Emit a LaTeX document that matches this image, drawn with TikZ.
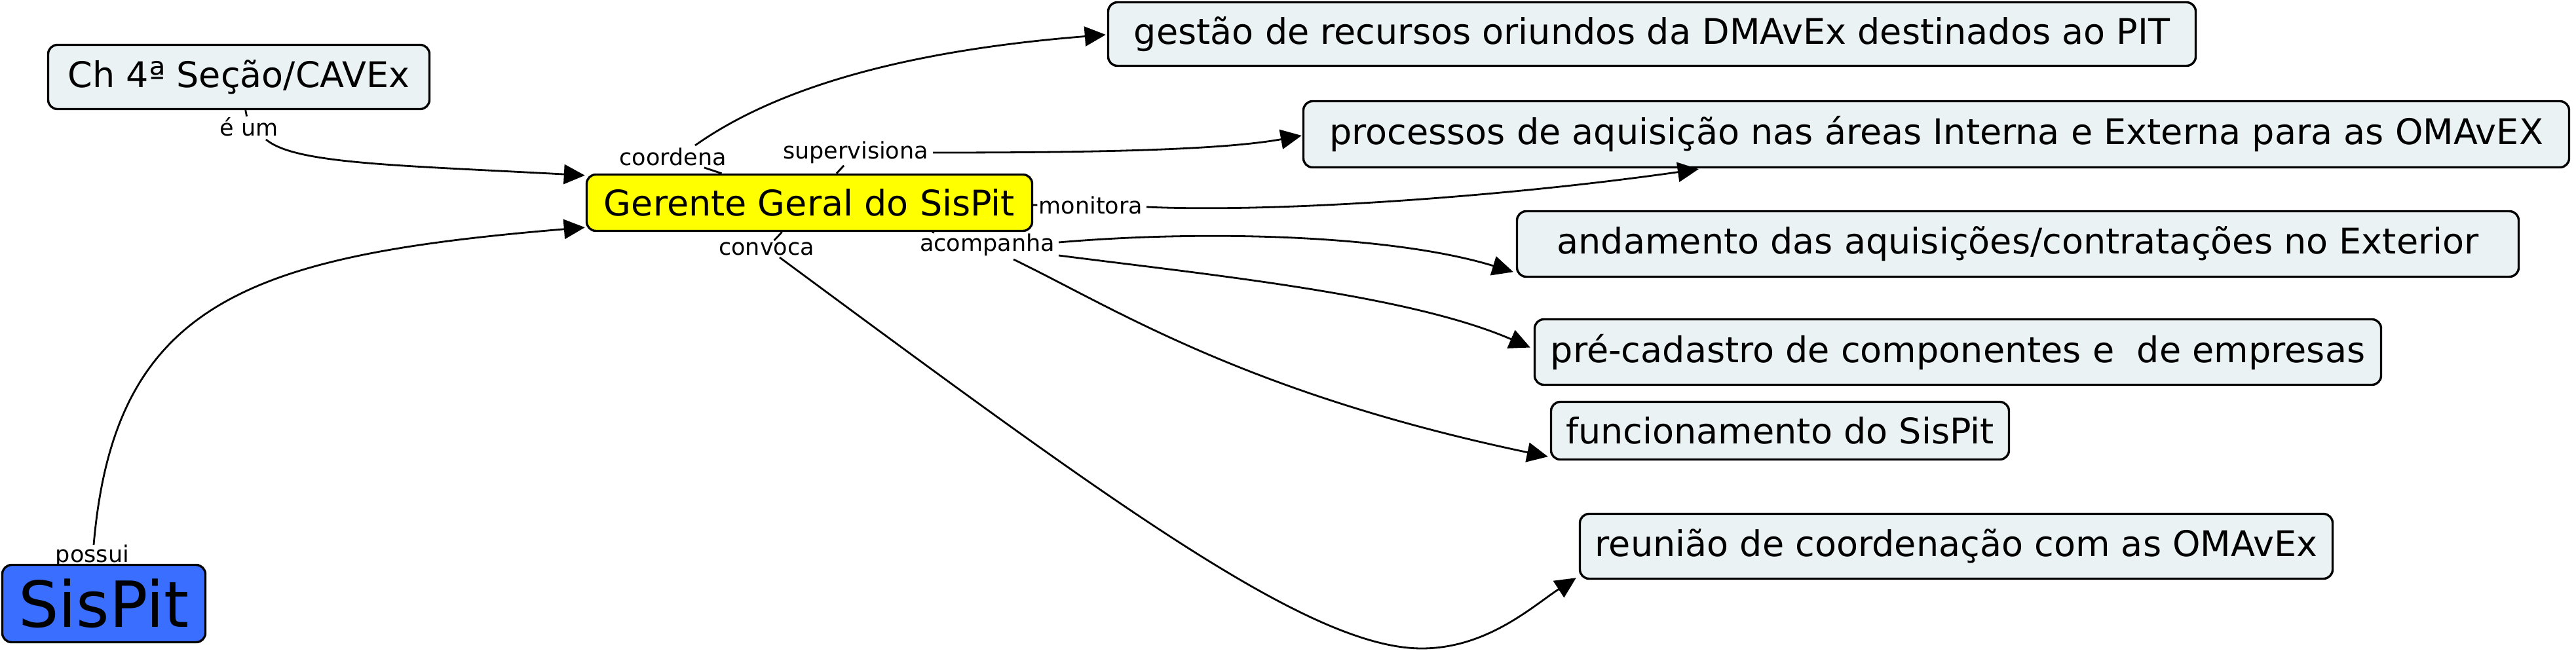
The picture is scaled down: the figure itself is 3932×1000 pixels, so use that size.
\documentclass[tikz,border=0pt]{standalone}
\usepackage{fontspec}
\setmainfont{DejaVu Sans}
\usetikzlibrary{arrows.meta}
\definecolor{boxfill}{RGB}{235,242,244}
\definecolor{gerfill}{RGB}{255,255,0}
\definecolor{sisfill}{RGB}{58,110,255}
\begin{document}
\begin{tikzpicture}[x=0.5pt,y=-0.5pt,
  concept/.style={draw=black, line width=1.7pt, rounded corners=7pt, fill=boxfill, inner sep=0pt,
    font=\fontsize{27pt}{32pt}\selectfont},
  linklabel/.style={inner sep=1pt, anchor=base, font=\fontsize{17.5pt}{21pt}\selectfont},
  link/.style={line width=1.4pt},
  arr/.style={link, -{Triangle[length=16pt,width=15pt]}}]
\useasboundingbox (0,0) rectangle (3932,1000);

% concept boxes
\node[concept, minimum width=291pt, minimum height=49pt] (ch) at (364.5,117.5) {Ch 4ª Seção/CAVEx};
\node[concept, fill=gerfill, minimum width=340pt, minimum height=43pt] (ger) at (1235.5,309.5) {Gerente Geral do SisPit};
\node[concept, minimum width=830pt, minimum height=48.5pt] (gest) at (2521.5,52) {gestão de recursos oriundos da DMAvEx destinados ao PIT};
\node[concept, minimum width=966pt, minimum height=50.5pt] (proc) at (2955.5,205) {processos de aquisição nas áreas Interna e Externa para as OMAvEX};
\node[concept, minimum width=764.5pt, minimum height=50pt] (and) at (3080,372.5) {andamento das aquisições/contratações no Exterior};
\node[concept, minimum width=646pt, minimum height=50pt] (pre) at (2988.5,537.5) {pré-cadastro de componentes e\ \ de empresas};
\node[concept, minimum width=349.5pt, minimum height=44pt] (fun) at (2717,657.5) {funcionamento do SisPit};
\node[concept, minimum width=574.5pt, minimum height=49.5pt] (reu) at (2986,834) {reunião de coordenação com as OMAvEx};

% linking phrases
\node[linklabel] (eum) at (380,208) {é um};
\node[linklabel] (coord) at (1027,253) {coordena};
\node[linklabel] (sup) at (1306,243) {supervisiona};
\node[linklabel] (mon) at (1665,327) {monitora};
\node[linklabel] (acomp) at (1507,384) {acompanha};
\node[linklabel] (conv) at (1170,389) {convoca};
\node[linklabel] (possui) at (141,858) {possui};

\node[concept, fill=sisfill, minimum width=155pt, minimum height=59pt,
  font=\fontsize{48.5pt}{58pt}\selectfont] (sis) at (158.5,921.5) {SisPit};

% short connectors from concepts to linking phrases
\draw[link] (ch) -- (eum);
\draw[link] (ger) -- (coord);
\draw[link] (ger) -- (sup);
\draw[link] (ger) -- (mon);
\draw[link] (ger) -- (acomp);
\draw[link] (ger) -- (conv);

% arrows from linking phrases to concepts
\draw[arr] ([shift={(26,5)}]eum.base) .. controls (450,250) and (600,252) .. ([shift={(-1,3)}]ger.north west);
\draw[arr] ([shift={(2,-26)}]possui.base) .. controls (175,460) and (380,390) .. ([shift={(-1,-7)}]ger.south west);
\draw[arr] ([shift={(34,-31)}]coord.base) .. controls (1170,145) and (1350,80) .. ([shift={(-2,1)}]gest.west);
\draw[arr] ([shift={(118,-10)}]sup.base) .. controls (1650,233) and (1860,230) .. ([shift={(-1,2)}]proc.west);
\draw[arr] ([shift={(85,-11)}]mon.base) .. controls (1950,325) and (2300,300) .. ([shift={(605,1)}]proc.south west);
\draw[arr] ([shift={(109,-14)}]acomp.base) .. controls (1850,350) and (2130,360) .. ([shift={(-4,-9)}]and.south west);
\draw[arr] ([shift={(109,6)}]acomp.base) .. controls (1850,420) and (2150,450) .. ([shift={(-5,-7)}]pre.west);
\draw[arr] ([shift={(40,12)}]acomp.base) .. controls (1700,470) and (1900,600) .. ([shift={(-3,-6)}]fun.south west);
\draw[arr] ([shift={(20,4)}]conv.base) .. controls (1700,770) and (2000,990) .. (2170,990)
  .. controls (2270,990) and (2340,925) .. ([shift={(-4,-3)}]reu.south west);
\end{tikzpicture}
\end{document}
